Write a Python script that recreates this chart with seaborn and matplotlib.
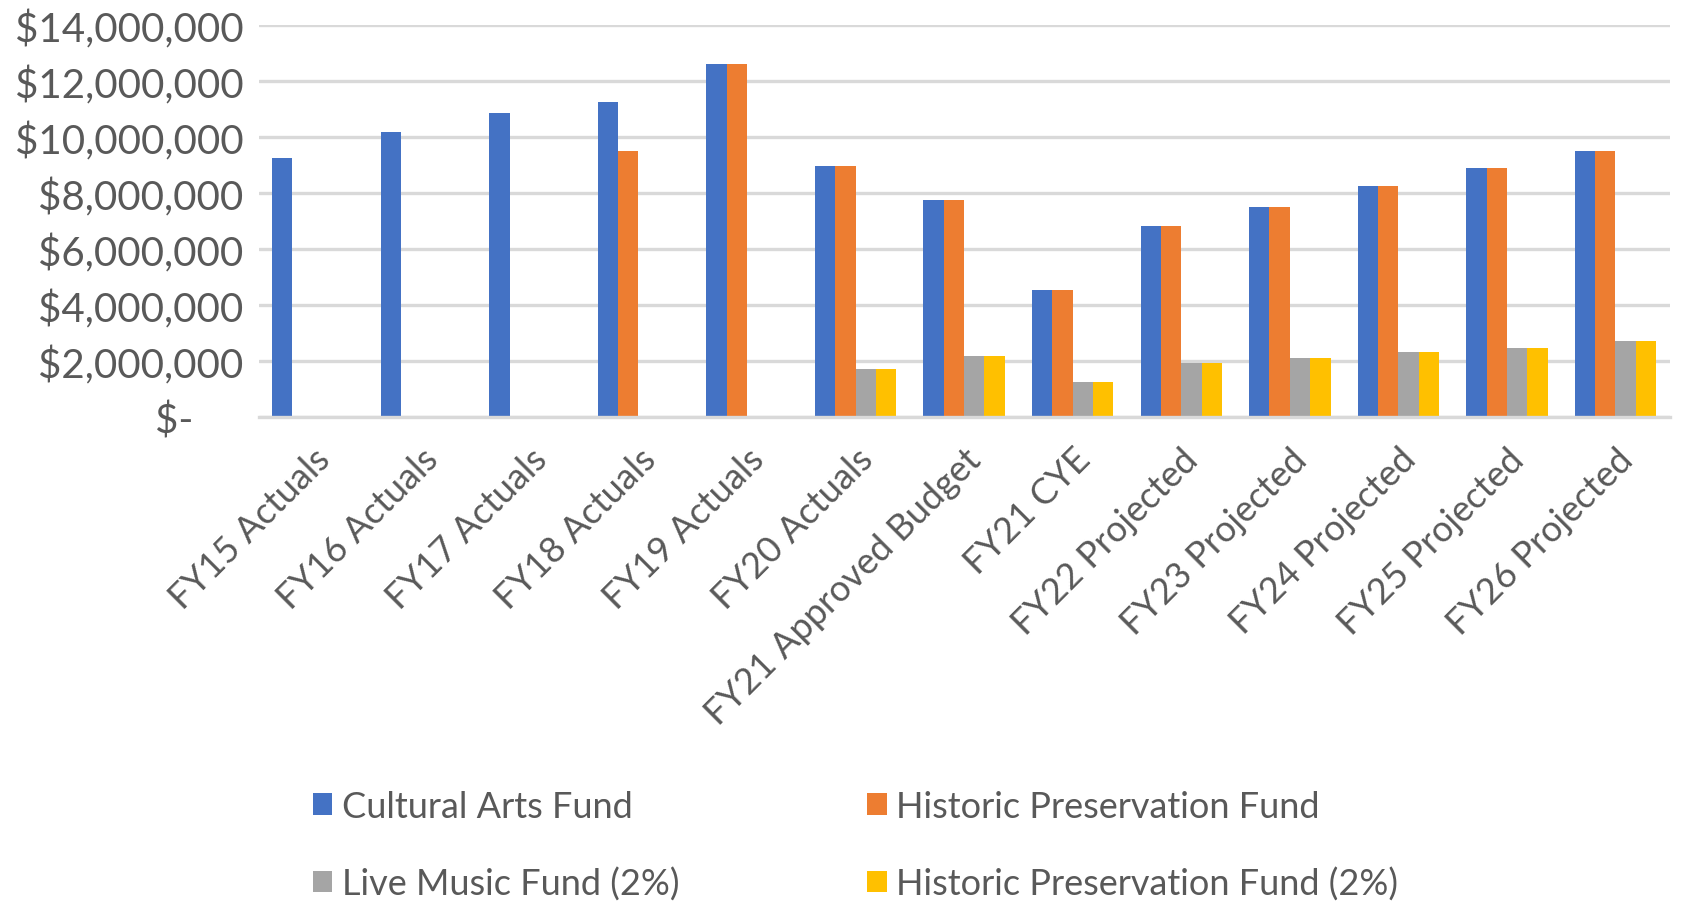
import numpy as np
import pandas as pd
import matplotlib.pyplot as plt
import matplotlib.transforms as mtransforms
from matplotlib.ticker import FuncFormatter, MultipleLocator
import seaborn as sns

# data
categories = ['FY15 Actuals', 'FY16 Actuals', 'FY17 Actuals', 'FY18 Actuals',
              'FY19 Actuals', 'FY20 Actuals', 'FY21 Approved Budget', 'FY21 CYE',
              'FY22 Projected', 'FY23 Projected', 'FY24 Projected',
              'FY25 Projected', 'FY26 Projected']
series = ['Cultural Arts Fund', 'Historic Preservation Fund',
          'Live Music Fund (2%)', 'Historic Preservation Fund (2%)']
cultural_arts = [9.26e6, 10.17e6, 10.86e6, 11.24e6, 12.61e6, 8.96e6, 7.74e6,
                 4.54e6, 6.83e6, 7.52e6, 8.27e6, 8.89e6, 9.49e6]
historic_pres = [np.nan, np.nan, np.nan, 9.49e6, 12.61e6, 8.96e6, 7.74e6,
                 4.54e6, 6.83e6, 7.52e6, 8.27e6, 8.89e6, 9.49e6]
live_music = [np.nan, np.nan, np.nan, np.nan, np.nan, 1.73e6, 2.17e6,
              1.25e6, 1.95e6, 2.10e6, 2.32e6, 2.48e6, 2.72e6]
historic_pres_2 = [np.nan, np.nan, np.nan, np.nan, np.nan, 1.73e6, 2.17e6,
                   1.25e6, 1.95e6, 2.10e6, 2.32e6, 2.48e6, 2.72e6]
colors = ['#4472C4', '#ED7D31', '#A5A5A5', '#FFC000']

df = pd.DataFrame({
    'Category': categories * 4,
    'Fund': [s for s in series for _ in categories],
    'Value': cultural_arts + historic_pres + live_music + historic_pres_2,
})

sns.set_theme(style='white')
plt.rcParams['font.family'] = ['Lato', 'DejaVu Sans']
text_color = '#595959'
grid_color = '#D9D9D9'

fig = plt.figure(figsize=(16.9, 9.03), dpi=100)
ax = fig.add_axes([0.153, 0.537, 0.835, 0.434])

sns.barplot(data=df, x='Category', y='Value', hue='Fund', hue_order=series,
            order=categories, palette=colors, width=0.75, errorbar=None,
            saturation=1, linewidth=0, ax=ax, legend=True)

ax.set_ylim(0, 14e6)
ax.set_xlim(-0.5, len(categories) - 0.5)
ax.yaxis.set_major_locator(MultipleLocator(2e6))
ax.yaxis.set_major_formatter(FuncFormatter(lambda v, p: '$-' if v == 0 else f'${v:,.0f}'))
ax.grid(axis='y', color=grid_color, linewidth=2.4)
ax.set_axisbelow(True)
for s in ['top', 'right', 'left']:
    ax.spines[s].set_visible(False)
ax.spines['bottom'].set_color(grid_color)
ax.spines['bottom'].set_linewidth(2.4)
ax.set_xlabel('')
ax.set_ylabel('')
ax.tick_params(axis='both', length=0, colors=text_color)
ax.tick_params(axis='y', pad=11, labelsize=29)
ax.tick_params(axis='x', pad=18, labelsize=26)
plt.setp(ax.get_xticklabels(), rotation=45, ha='right', rotation_mode='anchor')

# accounting-style zero label sits left of the others
for lbl in ax.get_yticklabels():
    if lbl.get_text() == '$-':
        lbl.set_transform(lbl.get_transform() +
                          mtransforms.ScaledTranslation(-0.5, 0, fig.dpi_scale_trans))

# legend laid out row by row, two columns
handles, labels = ax.get_legend_handles_labels()
ax.get_legend().remove()
order = [0, 2, 1, 3]
fig.legend([handles[i] for i in order], [labels[i] for i in order],
           loc='center', bbox_to_anchor=(0.506, 0.063), ncol=2,
           frameon=False, fontsize=26, labelcolor=text_color,
           handlelength=0.55, handleheight=0.55, handletextpad=0.25,
           columnspacing=5.2, labelspacing=1.2, borderpad=0)

fig.savefig('out.png', dpi=100)
